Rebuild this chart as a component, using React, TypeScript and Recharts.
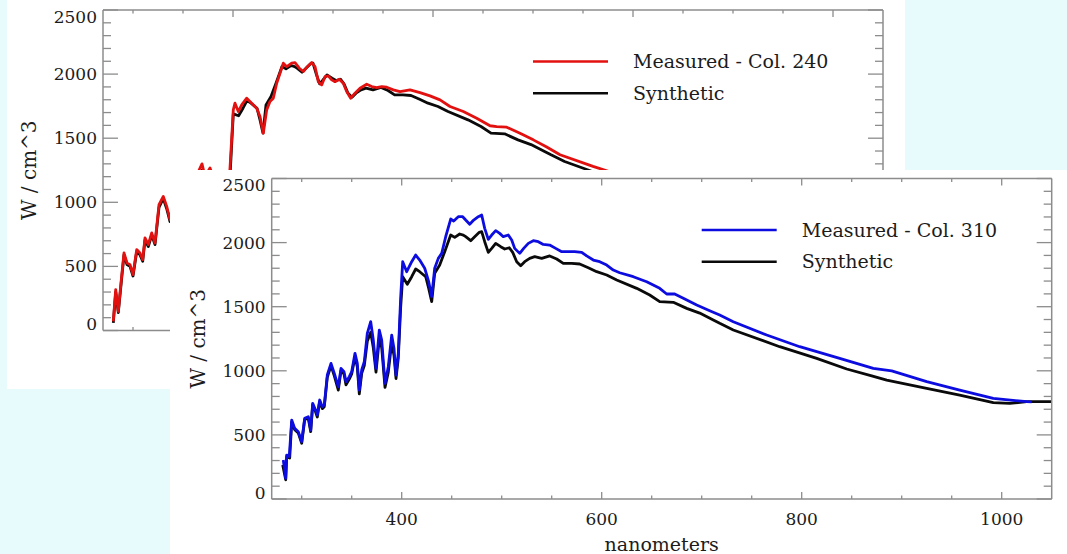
import React from 'react';
import { LineChart, Line, XAxis, YAxis, Customized } from 'recharts';

// ---------------- data ----------------
const WAVELENGTH_TICKS = [300, 350, 400, 450, 500, 550, 600, 650, 700, 750, 800, 850, 900, 950, 1000];
const FLUX_TICKS = [0, 100, 200, 300, 400, 500, 600, 700, 800, 900, 1000, 1100, 1200, 1300, 1400, 1500, 1600, 1700, 1800, 1900, 2000, 2100, 2200, 2300, 2400, 2500];
const MAJOR_WAVELENGTHS = [400, 600, 800, 1000];
const MAJOR_FLUX = [0, 500, 1000, 1500, 2000, 2500];

// Column 310 (front panel)
const measured310Nm = [281.6, 284, 285, 287.6, 290, 293, 296.6, 300, 303, 306.6, 309, 311, 313, 315.6, 318, 320.6, 322.6, 325.6, 329.3, 332.6, 336.6, 339.3, 342.3, 344.3, 347.6, 350, 353.3, 355.6, 357.6, 360, 362.6, 365.6, 369, 371.6, 374.3, 377.6, 380, 383.3, 386.6, 390, 392.3, 394.3, 396.6, 399, 401, 405, 410, 414, 418, 423, 427, 430, 433, 436.6, 440, 444, 449, 452, 456.6, 461, 464, 468, 472, 476.6, 480, 483, 486.6, 490, 494, 498, 501.6, 506.6, 510, 513, 518, 522, 526.6, 531.6, 536.6, 541.6, 548, 554, 560, 566.6, 573, 580, 585, 591.6, 598, 605, 611.6, 618, 631.6, 645, 658, 665, 673, 681.6, 695, 708, 718, 731.6, 765, 798, 838, 871.6, 890, 925, 958, 991.6, 1025, 1030];
const measured310W = [304, 161, 343, 330, 616, 551, 525, 447, 630, 642, 538, 746, 710, 655, 772, 720, 733, 967, 1058, 980, 876, 1019, 993, 915, 954, 993, 1136, 1058, 850, 1006, 1071, 1292, 1383, 1240, 1019, 1318, 1240, 902, 1032, 1279, 1175, 967, 1136, 1578, 1851, 1773, 1851, 1903, 1864, 1800, 1695, 1578, 1800, 1877, 1916, 2046, 2184, 2168, 2202, 2202, 2176, 2143, 2176, 2202, 2215, 2111, 2025, 2059, 2093, 2072, 2046, 2059, 2020, 1955, 1916, 1955, 1994, 2015, 2007, 1986, 1981, 1955, 1929, 1929, 1929, 1924, 1896, 1864, 1851, 1825, 1786, 1765, 1734, 1695, 1643, 1599, 1599, 1565, 1513, 1469, 1435, 1383, 1279, 1188, 1097, 1019, 1000, 915, 850, 785, 759, 757];

const synthetic310Nm = [281, 284, 285, 288, 290, 293, 296.6, 300, 303, 306.6, 309, 311, 313, 315.6, 318, 320.6, 322.6, 325.6, 329.3, 332.6, 336.6, 339.3, 342.3, 344.3, 347.6, 350, 353.3, 355.6, 357.6, 360, 362.6, 365.6, 369, 371.6, 374.3, 377.6, 380, 383.3, 386.6, 390, 392.3, 394.3, 396.6, 399, 401, 405.6, 410, 414, 418, 424, 427, 430, 433, 438, 443, 449, 453, 458, 461.6, 464, 469, 473, 477.6, 480, 483, 486.6, 490, 494, 499, 503, 507.6, 511, 515, 519, 523, 528, 533, 540, 548, 555, 561.6, 570, 578, 586.6, 595, 605, 615, 635, 648, 658, 671.6, 685, 698, 711.6, 718, 731.6, 778, 815, 845, 870, 885, 925, 958, 991.6, 1008, 1025, 1050];
const synthetic310W = [265, 150, 330, 320, 600, 540, 515, 435, 620, 630, 525, 735, 700, 640, 760, 705, 720, 950, 1040, 960, 850, 1000, 975, 890, 935, 975, 1110, 1030, 820, 980, 1040, 1230, 1300, 1180, 990, 1250, 1180, 870, 990, 1220, 1120, 940, 1100, 1500, 1734, 1675, 1734, 1794, 1773, 1734, 1643, 1539, 1760, 1825, 1929, 2059, 2041, 2067, 2059, 2046, 2015, 2046, 2080, 2085, 2007, 1924, 1955, 1994, 1968, 1950, 1960, 1924, 1851, 1820, 1851, 1877, 1890, 1877, 1896, 1872, 1838, 1838, 1833, 1804, 1773, 1747, 1708, 1643, 1591, 1539, 1534, 1487, 1450, 1396, 1370, 1318, 1188, 1097, 1014, 960, 928, 863, 811, 751, 746, 759, 759];

// Column 240 (back panel)
const measured240Nm = [280.3, 282.7, 285.3, 288, 291, 294, 297, 300, 303.7, 307, 309.7, 312, 315.3, 318.7, 322, 326, 330.3, 333.7, 337, 340, 343, 345, 348, 350, 353, 356, 358, 360, 363, 366, 369, 372, 377, 380, 383, 387, 390, 392, 394, 397, 400.3, 402, 405.3, 408.7, 413.7, 418.7, 423.7, 427, 430.3, 433.7, 437, 440.3, 443.7, 447, 450.3, 453.7, 458.7, 462, 466.3, 470.3, 474.3, 478.7, 482, 485.3, 488.7, 492, 495.3, 498.7, 502, 506.3, 510.3, 513.7, 517.7, 522, 527, 533.7, 538.7, 543.7, 548.7, 553.7, 560.3, 567, 577, 587, 597, 607, 617, 630.3, 643.7, 657, 663.7, 673.7, 687, 700.3, 713.7, 727, 760, 800, 850, 900, 950, 1000, 1030];
const measured240W = [72, 319, 150, 371, 605, 527, 514, 436, 631, 605, 553, 722, 670, 761, 683, 981, 1046, 968, 864, 1000, 980, 900, 940, 980, 1110, 1040, 840, 990, 1050, 1250, 1300, 1200, 1267, 1200, 880, 1000, 1240, 1140, 950, 1267, 1721, 1773, 1708, 1760, 1812, 1773, 1734, 1669, 1539, 1721, 1786, 1812, 1929, 2007, 2085, 2058, 2085, 2090, 2046, 2020, 2058, 2090, 2058, 1941, 1916, 1980, 1986, 1955, 1941, 1960, 1929, 1864, 1812, 1851, 1890, 1921, 1903, 1895, 1903, 1898, 1877, 1864, 1877, 1856, 1830, 1799, 1747, 1708, 1656, 1597, 1591, 1586, 1539, 1487, 1431, 1371, 1280, 1180, 1060, 975, 880, 790, 760];

const synthetic240Nm = [280.3, 282.7, 285.3, 288, 291, 294, 297, 300, 303.7, 307, 309.7, 312, 315.3, 318.7, 322, 326, 330.3, 333.7, 337, 340, 343, 345, 348, 350, 353, 356, 358, 360, 363, 366, 369, 372, 377, 380, 383, 387, 390, 392, 394, 397, 400.3, 405.6, 410, 414, 418, 424, 427, 430, 433, 438, 443, 449, 453, 458, 461.6, 464, 469, 473, 477.6, 480, 483, 486.6, 490, 494, 499, 503, 507.6, 511, 515, 519, 523, 528, 533, 540, 548, 555, 561.6, 570, 578, 586.6, 595, 605, 615, 635, 648, 658, 671.6, 685, 698, 711.6, 718, 731.6, 778, 815, 845, 870, 885, 925, 958, 991.6, 1008, 1025, 1050];
const synthetic240W = [60, 300, 140, 355, 590, 515, 500, 425, 615, 590, 540, 705, 655, 745, 670, 960, 1030, 950, 850, 985, 960, 880, 925, 965, 1090, 1010, 810, 965, 1020, 1200, 1250, 1150, 1230, 1150, 850, 970, 1200, 1100, 920, 1200, 1690, 1675, 1734, 1794, 1773, 1734, 1643, 1539, 1760, 1825, 1929, 2059, 2041, 2067, 2059, 2046, 2015, 2046, 2080, 2085, 2007, 1924, 1955, 1994, 1968, 1950, 1960, 1924, 1851, 1820, 1851, 1877, 1890, 1877, 1896, 1872, 1838, 1838, 1833, 1804, 1773, 1747, 1708, 1643, 1591, 1539, 1534, 1487, 1450, 1396, 1370, 1318, 1188, 1097, 1014, 960, 928, 863, 811, 751, 746, 759, 759];

// ---------------- style ----------------
const PAGE_W = 1067;
const PAGE_H = 554;
const PLOT_W = 780;
const PLOT_H = 320.5;
const AXIS_COLOR = '#8c8c8c';
const TEXT_COLOR = '#1c1c1c';
const FONT = '"DejaVu Serif", serif';
const BG = '#e8fbfc';

const toPoints = (nm: number[], w: number[]) => nm.map((x, i) => ({ nm: x, w: w[i] }));

type PanelProps = {
  px: number;
  py: number;
  measuredNm: number[];
  measuredW: number[];
  syntheticNm: number[];
  syntheticW: number[];
  color: string;
  label: string;
};

function SpectrumPanel({ px, py, measuredNm, measuredW, syntheticNm, syntheticW, color, label }: PanelProps) {
  const measured = toPoints(measuredNm, measuredW);
  const synthetic = toPoints(syntheticNm, syntheticW);

  const bottomTick = (p: any) => {
    const v = p.payload.value;
    const major = MAJOR_WAVELENGTHS.includes(v);
    return (
      <g>
        <line x1={p.x} y1={p.y} x2={p.x} y2={p.y - (major ? 7 : 3.5)} stroke={AXIS_COLOR} strokeWidth={1.3} />
        {major && (
          <text x={p.x} y={p.y + 20} textAnchor="middle" dominantBaseline="central" fontFamily={FONT} fontSize={17} fill={TEXT_COLOR}>
            {v}
          </text>
        )}
      </g>
    );
  };
  const topTick = (p: any) => {
    const v = p.payload.value;
    const major = MAJOR_WAVELENGTHS.includes(v);
    return <line x1={p.x} y1={p.y} x2={p.x} y2={p.y + (major ? 7 : 3.5)} stroke={AXIS_COLOR} strokeWidth={1.3} />;
  };
  const leftTick = (p: any) => {
    const v = p.payload.value;
    const major = MAJOR_FLUX.includes(v);
    let dy = 0;
    if (v === 2500) dy = 6.5;
    if (v === 0) dy = -6.5;
    return (
      <g>
        <line x1={p.x} y1={p.y} x2={p.x + (major ? 15 : 8)} y2={p.y} stroke={AXIS_COLOR} strokeWidth={1.3} />
        {major && (
          <text x={p.x - 6} y={p.y + dy} textAnchor="end" dominantBaseline="central" fontFamily={FONT} fontSize={17} fill={TEXT_COLOR}>
            {v}
          </text>
        )}
      </g>
    );
  };
  const rightTick = (p: any) => {
    const v = p.payload.value;
    const major = MAJOR_FLUX.includes(v);
    return <line x1={p.x} y1={p.y} x2={p.x - (major ? 15 : 8)} y2={p.y} stroke={AXIS_COLOR} strokeWidth={1.3} />;
  };

  const Extras = () => (
    <g fontFamily={FONT} fill={TEXT_COLOR}>
      <text
        x={px - 74}
        y={py + PLOT_H / 2}
        transform={`rotate(-90 ${px - 74} ${py + PLOT_H / 2})`}
        textAnchor="middle"
        dominantBaseline="central"
        fontSize={20}
      >
        W / cm^3
      </text>
      <text x={px + PLOT_W / 2} y={py + PLOT_H + 51.5} textAnchor="middle" fontSize={19}>
        nanometers
      </text>
      <line x1={px + 430} y1={py + 51.5} x2={px + 505} y2={py + 51.5} stroke={color} strokeWidth={2.6} />
      <text x={px + 530} y={py + 58.2} fontSize={19}>
        {label}
      </text>
      <line x1={px + 430} y1={py + 83.2} x2={px + 505} y2={py + 83.2} stroke="#0a0a0a" strokeWidth={2.6} />
      <text x={px + 530} y={py + 89.8} fontSize={19}>
        Synthetic
      </text>
    </g>
  );

  const axisLine = { stroke: AXIS_COLOR, strokeWidth: 1.5 };

  return (
    <div style={{ position: 'absolute', left: 0, top: 0 }}>
      <LineChart
        width={PAGE_W}
        height={PAGE_H}
        margin={{ top: py - 1, left: px - 1, right: PAGE_W - px - PLOT_W - 1, bottom: PAGE_H - py - PLOT_H - 1 }}
      >
        <XAxis xAxisId="b" type="number" dataKey="nm" domain={[270, 1050]} ticks={WAVELENGTH_TICKS} interval={0}
          height={1} tickSize={0} tickMargin={0} tickLine={false} axisLine={axisLine} tick={bottomTick} allowDataOverflow />
        <XAxis xAxisId="t" orientation="top" type="number" dataKey="nm" domain={[270, 1050]} ticks={WAVELENGTH_TICKS} interval={0}
          height={1} tickSize={0} tickMargin={0} tickLine={false} axisLine={axisLine} tick={topTick} allowDataOverflow />
        <YAxis yAxisId="l" type="number" domain={[0, 2500]} ticks={FLUX_TICKS} interval={0}
          width={1} tickSize={0} tickMargin={0} tickLine={false} axisLine={axisLine} tick={leftTick} allowDataOverflow />
        <YAxis yAxisId="r" orientation="right" type="number" domain={[0, 2500]} ticks={FLUX_TICKS} interval={0}
          width={1} tickSize={0} tickMargin={0} tickLine={false} axisLine={axisLine} tick={rightTick} allowDataOverflow />
        <Line xAxisId="b" yAxisId="l" data={synthetic} dataKey="w" type="linear" stroke="#0a0a0a" strokeWidth={2.8}
          dot={false} activeDot={false} isAnimationActive={false} strokeLinejoin="round" />
        <Line xAxisId="b" yAxisId="l" data={measured} dataKey="w" type="linear" stroke={color} strokeWidth={2.8}
          dot={false} activeDot={false} isAnimationActive={false} strokeLinejoin="round" />
        <Customized component={Extras} />
      </LineChart>
    </div>
  );
}

export default function App() {
  return (
    <div style={{ position: 'absolute', left: 0, top: 0, width: PAGE_W, height: PAGE_H, background: BG, overflow: 'hidden' }}>
      <div style={{ position: 'absolute', left: 7, top: 0, width: 898, height: 389, background: '#ffffff' }} />
      <SpectrumPanel px={103} py={10} measuredNm={measured240Nm} measuredW={measured240W}
        syntheticNm={synthetic240Nm} syntheticW={synthetic240W} color="#e31010" label="Measured - Col. 240" />
      <div style={{ position: 'absolute', left: 170, top: 170, width: 897, height: 384, background: '#ffffff' }} />
      <SpectrumPanel px={271.7} py={178.5} measuredNm={measured310Nm} measuredW={measured310W}
        syntheticNm={synthetic310Nm} syntheticW={synthetic310W} color="#0c0ce0" label="Measured - Col. 310" />
    </div>
  );
}
